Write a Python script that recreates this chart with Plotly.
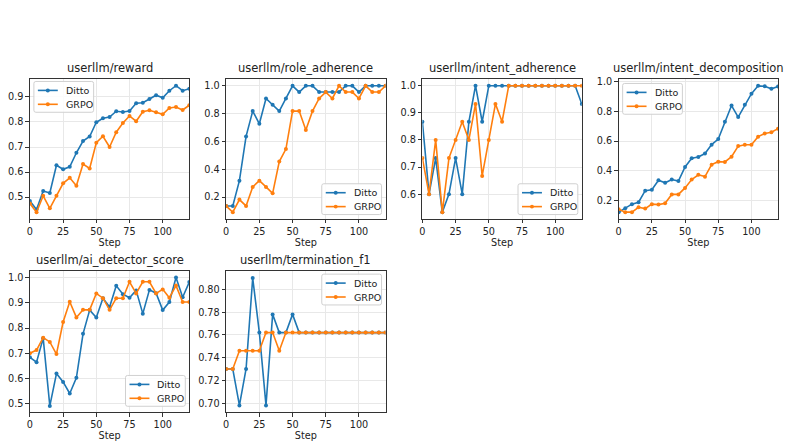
import plotly.graph_objects as go

steps = list(range(0, 121, 5))

titles = ["userllm/reward", "userllm/role_adherence", "userllm/intent_adherence",
          "userllm/intent_decomposition", "userllm/ai_detector_score", "userllm/termination_f1"]

reward_ditto = [0.484, 0.450, 0.524, 0.516, 0.627, 0.611, 0.621, 0.677, 0.724, 0.742, 0.799, 0.815, 0.820,
                0.843, 0.840, 0.844, 0.875, 0.877, 0.892, 0.907, 0.897, 0.925, 0.945, 0.925, 0.933]
reward_grpo = [0.474, 0.439, 0.505, 0.455, 0.505, 0.555, 0.577, 0.545, 0.632, 0.614, 0.717, 0.743, 0.700,
               0.759, 0.796, 0.824, 0.803, 0.841, 0.847, 0.839, 0.831, 0.856, 0.860, 0.848, 0.867]

role_ditto = [0.136, 0.136, 0.318, 0.636, 0.818, 0.727, 0.909, 0.864, 0.818, 0.909, 1.0, 0.955, 1.0,
              1.0, 0.955, 0.955, 0.955, 0.955, 1.0, 1.0, 0.955, 1.0, 1.0, 1.0, 1.0]
role_grpo = [0.136, 0.091, 0.182, 0.136, 0.273, 0.318, 0.273, 0.227, 0.455, 0.545, 0.818, 0.818, 0.682,
             0.818, 0.909, 0.955, 0.909, 1.0, 0.955, 0.955, 0.909, 1.0, 0.955, 0.955, 1.0]

intent_ditto = [0.867, 0.600, 0.733, 0.533, 0.600, 0.733, 0.600, 0.867, 1.0, 0.867, 1.0, 1.0, 1.0,
                1.0, 1.0, 1.0, 1.0, 1.0, 1.0, 1.0, 1.0, 1.0, 1.0, 1.0, 0.933]
intent_grpo = [0.733, 0.600, 0.800, 0.533, 0.733, 0.800, 0.867, 0.800, 0.933, 0.667, 0.800, 0.933, 0.867,
               1.0, 1.0, 1.0, 1.0, 1.0, 1.0, 1.0, 1.0, 1.0, 1.0, 1.0, 1.0]

decomp_ditto = [0.120, 0.147, 0.174, 0.187, 0.265, 0.271, 0.336, 0.318, 0.340, 0.330, 0.425, 0.484, 0.493,
                0.516, 0.576, 0.614, 0.730, 0.840, 0.762, 0.845, 0.920, 0.973, 0.970, 0.953, 0.969]
decomp_grpo = [0.140, 0.120, 0.120, 0.153, 0.144, 0.174, 0.171, 0.180, 0.240, 0.240, 0.284, 0.340, 0.372,
               0.360, 0.441, 0.461, 0.459, 0.495, 0.566, 0.575, 0.575, 0.630, 0.651, 0.660, 0.684]

aidet_ditto = [0.684, 0.665, 0.760, 0.492, 0.620, 0.587, 0.541, 0.603, 0.777, 0.871, 0.842, 0.918, 0.883,
               0.967, 0.934, 0.920, 0.949, 0.857, 0.951, 0.938, 0.871, 0.903, 1.0, 0.922, 0.982]
aidet_grpo = [0.700, 0.713, 0.762, 0.745, 0.697, 0.824, 0.904, 0.842, 0.872, 0.872, 0.937, 0.918, 0.872,
              0.918, 0.918, 0.983, 0.937, 0.983, 0.983, 0.937, 0.953, 0.920, 0.968, 0.903, 0.903]

term_ditto = [0.730, 0.730, 0.698, 0.730, 0.810, 0.762, 0.698, 0.778, 0.762, 0.762, 0.778] + [0.762] * 14
term_grpo = [0.730, 0.730, 0.746, 0.746, 0.746, 0.746, 0.762, 0.762, 0.746] + [0.762] * 16

series = [(reward_ditto, reward_grpo), (role_ditto, role_grpo), (intent_ditto, intent_grpo),
          (decomp_ditto, decomp_grpo), (aidet_ditto, aidet_grpo), (term_ditto, term_grpo)]

yranges = [[0.414, 0.970], [0.0455, 1.0455], [0.510, 1.023], [0.077, 1.016], [0.467, 1.025], [0.692, 0.816]]
ydticks = [0.1, 0.2, 0.1, 0.2, 0.1, 0.02]
ytickfmt = [".1f", ".1f", ".1f", ".1f", ".1f", ".2f"]

W, H = 786, 444
# subplot frames in pixels
xpix = [[27, 187], [224, 384], [421, 581], [618, 778]]
ypix = [[77, 217], [270, 412]]
# legend box top-left in pixels
legbox = [(31, 79), (320, 182), (517, 182), (622, 81), (123, 375), (320, 273)]

colors = ["#1f77b4", "#ff7f0e"]
names = ["Ditto", "GRPO"]
FONT = "DejaVu Sans"


def px(x):
    return x / W


def py(y):
    return 1 - y / H


fig = go.Figure()
layout = dict(
    width=W, height=H, margin=dict(l=0, r=0, t=0, b=0),
    paper_bgcolor="white", plot_bgcolor="white",
    font=dict(family=FONT, size=10, color="#222"),
    showlegend=False, annotations=[], shapes=[],
)

for i in range(6):
    n = i + 1
    sfx = "" if n == 1 else str(n)
    for k in range(2):
        fig.add_trace(go.Scatter(
            x=steps, y=series[i][k], name=names[k], mode="lines+markers",
            line=dict(color=colors[k], width=1.6),
            marker=dict(color=colors[k], size=4),
            xaxis="x" + sfx, yaxis="y" + sfx,
        ))
    r, c = divmod(i, 4)
    xd = [px(xpix[c][0]), px(xpix[c][1])]
    yd = [py(ypix[r][1]), py(ypix[r][0])]
    layout["xaxis" + sfx] = dict(
        domain=xd, anchor="y" + sfx, range=[0, 120], tickvals=[0, 25, 50, 75, 100],
        showgrid=True, gridcolor="#e8e8e8", gridwidth=0.8, zeroline=False,
        showline=True, linecolor="#333", linewidth=1, mirror=True,
        ticks="outside", ticklen=3.5, tickcolor="#333", tickfont=dict(size=9.7),
        title=dict(text="Step", font=dict(size=9.7), standoff=1),
    )
    layout["yaxis" + sfx] = dict(
        domain=yd, anchor="x" + sfx, range=yranges[i], dtick=ydticks[i], tick0=0,
        tickformat=ytickfmt[i],
        showgrid=True, gridcolor="#e8e8e8", gridwidth=0.8, zeroline=False,
        showline=True, linecolor="#333", linewidth=1, mirror=True,
        ticks="outside", ticklen=3.5, tickcolor="#333", tickfont=dict(size=9.7),
    )
    layout["annotations"].append(dict(
        text=titles[i], x=(xd[0] + xd[1]) / 2, y=yd[1], xref="paper", yref="paper",
        xanchor="center", yanchor="bottom", yshift=2, showarrow=False,
        font=dict(size=11.5, family=FONT, color="#222"),
    ))
    # matplotlib-style legend box
    bx, by = legbox[i]
    bw, bh, rr = 60, 31, 2
    x0, x1, y0, y1 = bx, bx + bw, by, by + bh
    path = (f"M {px(x0 + rr)},{py(y0)} L {px(x1 - rr)},{py(y0)} Q {px(x1)},{py(y0)} {px(x1)},{py(y0 + rr)} "
            f"L {px(x1)},{py(y1 - rr)} Q {px(x1)},{py(y1)} {px(x1 - rr)},{py(y1)} "
            f"L {px(x0 + rr)},{py(y1)} Q {px(x0)},{py(y1)} {px(x0)},{py(y1 - rr)} "
            f"L {px(x0)},{py(y0 + rr)} Q {px(x0)},{py(y0)} {px(x0 + rr)},{py(y0)} Z")
    layout["shapes"].append(dict(type="path", path=path, xref="paper", yref="paper",
                                 fillcolor="rgba(255,255,255,0.85)",
                                 line=dict(color="#d0d0d0", width=1), layer="above"))
    for k in range(2):
        cy = by + 9 + 14 * k
        layout["shapes"].append(dict(type="line", xref="paper", yref="paper",
                                     x0=px(bx + 4), x1=px(bx + 24), y0=py(cy), y1=py(cy),
                                     line=dict(color=colors[k], width=1.6), layer="above"))
        layout["shapes"].append(dict(type="circle", xref="paper", yref="paper",
                                     x0=px(bx + 12), x1=px(bx + 16), y0=py(cy - 2), y1=py(cy + 2),
                                     fillcolor=colors[k], line=dict(width=0), layer="above"))
        layout["annotations"].append(dict(
            text=names[k], x=px(bx + 30), y=py(cy), xref="paper", yref="paper",
            xanchor="left", yanchor="middle", showarrow=False,
            font=dict(size=9.5, family=FONT, color="#222"),
        ))

fig.update_layout(**layout)
fig.write_html("out.html")
